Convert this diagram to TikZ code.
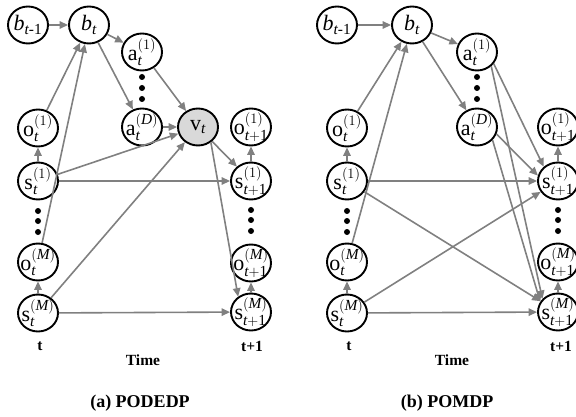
\documentclass[tikz,border=0pt]{standalone}
\usepackage{fontspec}
\setmainfont{Liberation Serif}
\usepackage{amsmath}
\usetikzlibrary{arrows.meta,shapes.geometric}
\definecolor{edgegray}{RGB}{128,128,128}
\definecolor{vfill}{RGB}{217,217,217}
\newcommand{\nodeB}[1]{$\mathit{b}_{\mathit{t}#1}$}
\newcommand{\nodeX}[3]{$\mathrm{#1}_{\mathit{t}#2}^{\mathrm{(}#3\mathrm{)}}$}
\tikzset{
  var/.style={ellipse, draw=black, line width=1.9pt, fill=white, minimum width=40pt, minimum height=37pt, inner sep=0pt},
  every label/.style={font=\fontsize{22}{22}\selectfont, inner sep=0pt},
  arr/.style={draw=edgegray, line width=1.6pt, -{Triangle[length=8.5pt,width=7.5pt]}},
  dotmark/.style={circle, fill=black, inner sep=0pt, minimum size=6pt},
  timelab/.style={font=\fontsize{15.5}{15.5}\selectfont\bfseries, inner sep=0pt},
  caplab/.style={font=\fontsize{18}{18}\selectfont\bfseries, inner sep=0pt}
}
\begin{document}
\begin{tikzpicture}[x=1pt,y=-1pt]
\useasboundingbox (0,0) rectangle (576,417);
% ---------------- left panel (a) ----------------
\node[var, label=center:{\nodeB{\text{-1}}}] (Lbt1) at (28,25) {};
\node[var, label=center:{\nodeB{}}] (Lbt) at (89,25) {};
\node[var, label=center:{\nodeX{a}{}{1}}] (La1) at (142,52) {};
\node[var, label=center:{\nodeX{a}{}{\mathit{D}}}] (LaD) at (142,127) {};
\node[var, fill=vfill, label=center:{$\mathrm{v}_{\mathit{t}}$}] (Lv) at (198,127) {};
\node[var, label=center:{\nodeX{o}{}{1}}] (Lo1) at (38,128) {};
\node[var, label=center:{\nodeX{s}{}{1}}] (Ls1) at (38,181) {};
\node[var, label=center:{\nodeX{o}{}{\mathit{M}}}] (LoM) at (38,262) {};
\node[var, label=center:{\nodeX{s}{}{\mathit{M}}}] (LsM) at (38,313) {};
\node[var, label=center:{\nodeX{o}{\mathrm{+1}}{1}}] (Lo1n) at (251,127) {};
\node[var, label=center:{\nodeX{s}{\mathrm{+1}}{1}}] (Ls1n) at (251,181) {};
\node[var, label=center:{\nodeX{o}{\mathrm{+1}}{\mathit{M}}}] (LoMn) at (251,263) {};
\node[var, label=center:{\nodeX{s}{\mathrm{+1}}{\mathit{M}}}] (LsMn) at (251,312) {};
\node[dotmark] (Lda1) at (142,77) {};
\node[dotmark] (Lda2) at (142,88) {};
\node[dotmark] (Lda3) at (142,99) {};
\node[dotmark] (Ldl1) at (38,211) {};
\node[dotmark] (Ldl2) at (38,221) {};
\node[dotmark] (Ldl3) at (38,232) {};
\node[dotmark] (Ldr1) at (251,210) {};
\node[dotmark] (Ldr2) at (251,220) {};
\node[dotmark] (Ldr3) at (251,231) {};
\draw[arr] (Lbt1) -- (Lbt);
\draw[arr] (Lo1) -- (Lbt);
\draw[arr] (LoM) -- (Lbt);
\draw[arr] (Lbt) -- (La1);
\draw[arr] (Lbt) -- (LaD);
\draw[arr] (La1) -- (Lv);
\draw[arr] (LaD) -- (Lv);
\draw[arr] (Ls1) -- (Lv);
\draw[arr] (LsM) -- (Lv);
\draw[arr] (Ls1) -- (Lo1);
\draw[arr] (LsM) -- (LoM);
\draw[arr] (Ls1) -- (Ls1n);
\draw[arr] (LsM) -- (LsMn);
\draw[arr] (Lv) -- (Ls1n);
\draw[arr] (Lv.-50) -- (LsMn.130);
\draw[arr] (Ls1n) -- (Lo1n);
\draw[arr] (LsMn) -- (LoMn);
\node[timelab] (Lt) at (40,346) {t};
\node[timelab] (Ltn) at (252,346) {t+1};
\node[timelab] (Ltime) at (143,360) {Time};
\node[caplab] (Lcap) at (140,403) {(a) PODEDP};
% ---------------- right panel (b) ----------------
\node[var, label=center:{\nodeB{\text{-1}}}] (Rbt1) at (337,25) {};
\node[var, label=center:{\nodeB{}}] (Rbt) at (412,25) {};
\node[var, label=center:{\nodeX{a}{}{1}}] (Ra1) at (477,52) {};
\node[var, label=center:{\nodeX{a}{}{\mathit{D}}}] (RaD) at (477,127) {};
\node[var, label=center:{\nodeX{o}{}{1}}] (Ro1) at (347,128) {};
\node[var, label=center:{\nodeX{s}{}{1}}] (Rs1) at (347,181) {};
\node[var, label=center:{\nodeX{o}{}{\mathit{M}}}] (RoM) at (347,262) {};
\node[var, label=center:{\nodeX{s}{}{\mathit{M}}}] (RsM) at (347,313) {};
\node[var, label=center:{\nodeX{o}{\mathrm{+1}}{1}}] (Ro1n) at (558,127) {};
\node[var, label=center:{\nodeX{s}{\mathrm{+1}}{1}}] (Rs1n) at (558,181) {};
\node[var, label=center:{\nodeX{o}{\mathrm{+1}}{\mathit{M}}}] (RoMn) at (558,262) {};
\node[var, label=center:{\nodeX{s}{\mathrm{+1}}{\mathit{M}}}] (RsMn) at (558,312) {};
\node[dotmark] (Rda1) at (477,77) {};
\node[dotmark] (Rda2) at (477,88) {};
\node[dotmark] (Rda3) at (477,99) {};
\node[dotmark] (Rdl1) at (347,211) {};
\node[dotmark] (Rdl2) at (347,221) {};
\node[dotmark] (Rdl3) at (347,232) {};
\node[dotmark] (Rdr1) at (558,210) {};
\node[dotmark] (Rdr2) at (558,220) {};
\node[dotmark] (Rdr3) at (558,231) {};
\draw[arr] (Rbt1) -- (Rbt);
\draw[arr] (Ro1) -- (Rbt);
\draw[arr] (RoM) -- (Rbt);
\draw[arr] (Rbt) -- (Ra1);
\draw[arr] (Rbt) -- (RaD);
\draw[arr] (Rs1) -- (Ro1);
\draw[arr] (RsM) -- (RoM);
\draw[arr] (Rs1) -- (Rs1n);
\draw[arr] (Rs1) -- (RsMn);
\draw[arr] (RsM) -- (Rs1n);
\draw[arr] (RsM) -- (RsMn);
\draw[arr] (Ra1.-35) -- (Rs1n.135);
\draw[arr] (Ra1.-45) -- (RsMn.140);
\draw[arr] (RaD.-20) -- (Rs1n.165);
\draw[arr] (RaD.-40) -- (RsMn.150);
\draw[arr] (Rs1n) -- (Ro1n);
\draw[arr] (RsMn) -- (RoMn);
\node[timelab] (Rt) at (349,346) {t};
\node[timelab] (Rtn) at (561,346) {t+1};
\node[timelab] (Rtime) at (452,360) {Time};
\node[caplab] (Rcap) at (447,403) {(b) POMDP};
\end{tikzpicture}
\end{document}
